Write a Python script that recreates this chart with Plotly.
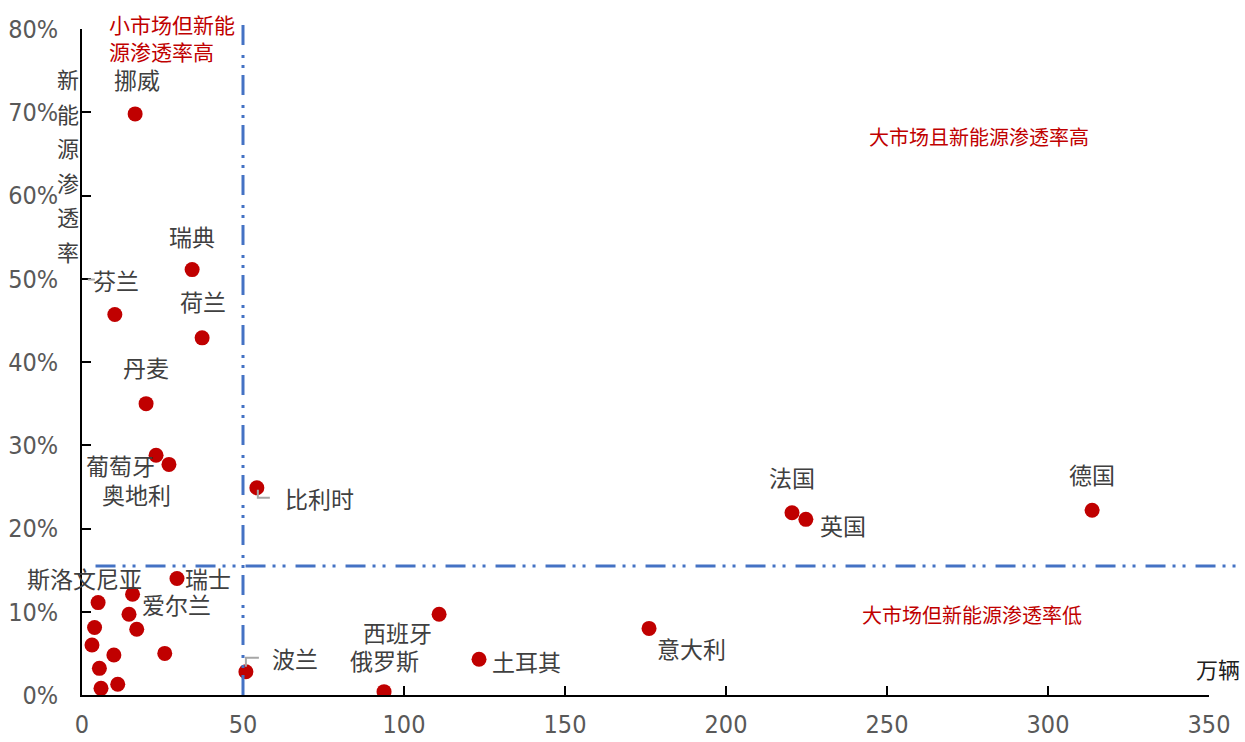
import plotly.graph_objects as go

# 各国乘用车销量（万辆）与新能源渗透率
countries = ["挪威", "瑞典", "芬兰", "荷兰", "丹麦", "葡萄牙", "奥地利", "比利时",
             "法国", "英国", "德国", "瑞士", "斯洛文尼亚", "爱尔兰", "西班牙",
             "俄罗斯", "波兰", "土耳其", "意大利",
             "", "", "", "", "", "", "", "", ""]
sales = [16.5, 34.2, 10.2, 37.3, 19.9, 23.0, 27.0, 54.3,
         220.5, 224.8, 313.7, 29.5, 5.0, 15.7, 110.9,
         93.8, 50.9, 123.3, 176.1,
         14.6, 17.0, 3.9, 3.1, 9.9, 25.7, 5.4, 11.1, 5.9]
penetration = [0.698, 0.511, 0.457, 0.429, 0.350, 0.288, 0.277, 0.249,
               0.219, 0.211, 0.222, 0.140, 0.111, 0.121, 0.097,
               0.004, 0.028, 0.043, 0.080,
               0.097, 0.079, 0.081, 0.060, 0.048, 0.050, 0.032, 0.013, 0.008]

# 标签相对数据点的像素偏移
label_shift = {
    "挪威": (2, 35), "瑞典": (0, 34), "芬兰": (1, 35), "荷兰": (1, 37),
    "丹麦": (0, 37), "葡萄牙": (-36, -10), "奥地利": (-32, -30),
    "比利时": (63, -10), "法国": (0, 36), "英国": (37, -6), "德国": (0, 36),
    "瑞士": (31, 0), "斯洛文尼亚": (-14, 25), "爱尔兰": (44, -10),
    "西班牙": (-42, -18), "俄罗斯": (0, 32), "波兰": (49, 14),
    "土耳其": (47, -2), "意大利": (42, -20),
}

# 分界线
x_split = 50
y_split = 0.155

x_ticks = [0, 50, 100, 150, 200, 250, 300, 350]
y_ticks = [0, 0.1, 0.2, 0.3, 0.4, 0.5, 0.6, 0.7, 0.8]

CJK = "Noto Sans CJK SC"
NUM = "DejaVu Sans Condensed, Liberation Sans Narrow, Liberation Sans, sans-serif"
LABEL_COLOR = "#404040"
RED = "#C00000"
BLUE = "#4472C4"
DASH = "20px,7px,3px,7px,3px,10px"

fig = go.Figure()
fig.add_trace(go.Scatter(
    x=sales, y=penetration, mode="markers",
    marker=dict(size=15, color=RED, line=dict(width=0)),
    hovertext=countries, showlegend=False,
))

annotations = []
for name, xv, yv in zip(countries, sales, penetration):
    if not name:
        continue
    dx, dy = label_shift[name]
    annotations.append(dict(
        x=xv, y=yv, xref="x", yref="y", text=name, showarrow=False,
        xanchor="center", yanchor="middle",
        xshift=dx, yshift=dy, font=dict(family=CJK, size=23, color=LABEL_COLOR),
    ))

# 纵轴标题（竖排）
for i, ch in enumerate("新能源渗透率"):
    annotations.append(dict(
        x=-0.0125, y=0.8, xref="paper", yref="y", text=ch, showarrow=False,
        xanchor="center", yanchor="middle",
        yshift=-49 - 34.5 * i, font=dict(family=CJK, size=22, color=LABEL_COLOR),
    ))

annotations.append(dict(
    x=1.0, y=0, xref="paper", yref="y", text="万辆", showarrow=False,
    xanchor="center", yanchor="middle",
    xshift=9, yshift=27, font=dict(family=CJK, size=22, color="#202020"),
))

# 象限说明
annotations += [
    dict(x=0.022, y=1.0, xref="paper", yref="paper", xanchor="left", yanchor="middle",
         text="小市场但新能<br>源渗透率高", showarrow=False, align="left", yshift=-8,
         font=dict(family=CJK, size=21, color=RED)),
    dict(x=0.796, y=0.8, xref="paper", yref="y", text="大市场且新能源渗透率高",
         xanchor="center", yanchor="middle",
         showarrow=False, yshift=-107, font=dict(family=CJK, size=20, color=RED)),
    dict(x=0.790, y=0, xref="paper", yref="y", text="大市场但新能源渗透率低",
         xanchor="center", yanchor="middle",
         showarrow=False, yshift=81, font=dict(family=CJK, size=20, color=RED)),
]

shapes = [
    dict(type="line", xref="x", yref="paper", x0=x_split, x1=x_split, y0=0, y1=1.0105,
         line=dict(color=BLUE, width=3, dash=DASH)),
    dict(type="line", xref="paper", yref="y", x0=0.012, x1=1.04, y0=y_split, y1=y_split,
         line=dict(color=BLUE, width=3, dash=DASH)),
]

# 引导线
leaders = {
    "比利时": "M 1,-2 L 1,-10 L 13,-10",
    "波兰": "M 0,5 L 0,14 L 13,14",
    "芬兰": "M -27,35 L -20,35",
}
for name, path in leaders.items():
    i = countries.index(name)
    shapes.append(dict(
        type="path", xref="x", yref="y", xsizemode="pixel", ysizemode="pixel",
        xanchor=sales[i], yanchor=penetration[i], path=path,
        line=dict(color="#A6A6A6", width=2),
    ))

axis_common = dict(
    showgrid=False, zeroline=False, showline=True, linecolor="black", linewidth=1.5,
    ticks="inside", ticklen=9, tickwidth=1.5, tickcolor="black",
    tickfont=dict(family=NUM, size=25, color="#595959"),
    automargin=False,
)

fig.update_layout(
    width=1245, height=742,
    margin=dict(l=82, r=36, t=29, b=47, autoexpand=False),
    paper_bgcolor="white", plot_bgcolor="white",
    annotations=annotations, shapes=shapes,
    xaxis=dict(range=[0, 350], tickvals=x_ticks, ticktext=[str(v) for v in x_ticks],
               ticklabelstandoff=6, **axis_common),
    yaxis=dict(range=[0, 0.8], tickvals=y_ticks, tickformat=".0%",
               ticklabelstandoff=17, **axis_common),
)

fig.write_html("out.html")
